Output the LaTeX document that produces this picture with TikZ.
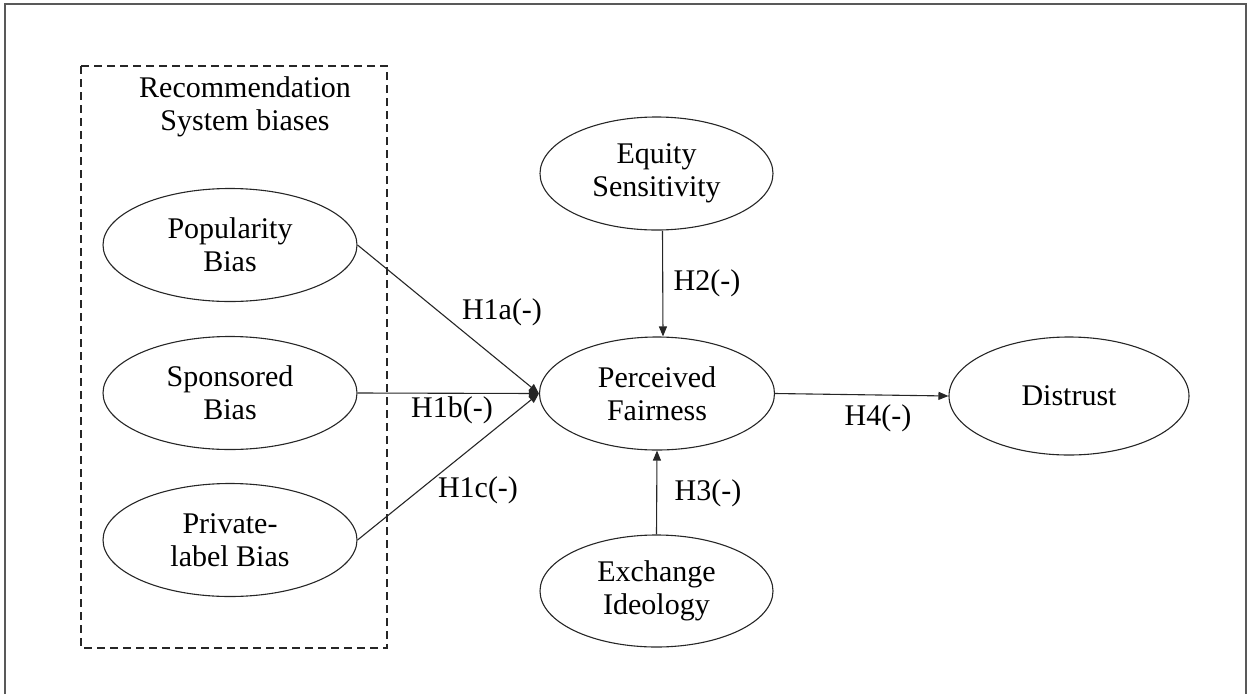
\documentclass[tikz,border=0pt]{standalone}
\usepackage{fontspec}
\setmainfont{Liberation Serif}
\usetikzlibrary{shapes.geometric,arrows.meta}
\begin{document}
\begin{tikzpicture}[x=1pt,y=-1pt,
  every node/.style={font=\fontsize{30}{33}\selectfont, align=center},
  oval/.style={draw=black!85, ellipse, line width=1.1pt, inner sep=0pt},
  arr/.style={draw=black!85, line width=1.1pt, -{Triangle[length=10pt,width=8pt]}},
  lab/.style={inner sep=0pt}]
\useasboundingbox (0,0) rectangle (1251,694);
\draw[line width=2pt, black!65] (5,694) -- (5,4) -- (1246,4) -- (1246,694);
\draw[dash pattern=on 8pt off 5pt, line width=1.1pt, black!85] (81,66) rectangle (387,648);
\node (title) at (245,107) {Recommendation\\System biases};
\node[oval, minimum width=254pt, minimum height=113pt] (pop) at (230,245) {Popularity\\Bias};
\node[oval, minimum width=254pt, minimum height=113pt] (spo) at (230,393) {Sponsored\\Bias};
\node[oval, minimum width=254pt, minimum height=113pt] (pri) at (230,540) {Private-\\label Bias};
\node[oval, minimum width=233pt, minimum height=113pt] (eq) at (656.5,173.5) {Equity\\Sensitivity};
\node[oval, minimum width=235pt, minimum height=113pt] (pf) at (657,393.5) {Perceived\\Fairness};
\node[oval, minimum width=233pt, minimum height=112pt] (ex) at (656.5,591) {Exchange\\Ideology};
\node[oval, minimum width=240pt, minimum height=118pt] (dis) at (1069,396) {Distrust};
\draw[arr] (pop.east) -- (pf.west);
\draw[arr] (spo.east) -- (pf.west);
\draw[arr] (pri.east) -- (pf.west);
\draw[arr] ([xshift=6pt]eq.south) -- ([xshift=6pt]pf.north);
\draw[arr] (ex.north) -- (pf.south);
\draw[arr] (pf.east) -- (dis.west);
\node[lab] (h1a) at (502,312) {H1a(-)};
\node[lab] (h1b) at (452,410) {H1b(-)};
\node[lab] (h1c) at (478,490) {H1c(-)};
\node[lab] (h2) at (707,283) {H2(-)};
\node[lab] (h3) at (708,493) {H3(-)};
\node[lab] (h4) at (878,418) {H4(-)};
\end{tikzpicture}
\end{document}
